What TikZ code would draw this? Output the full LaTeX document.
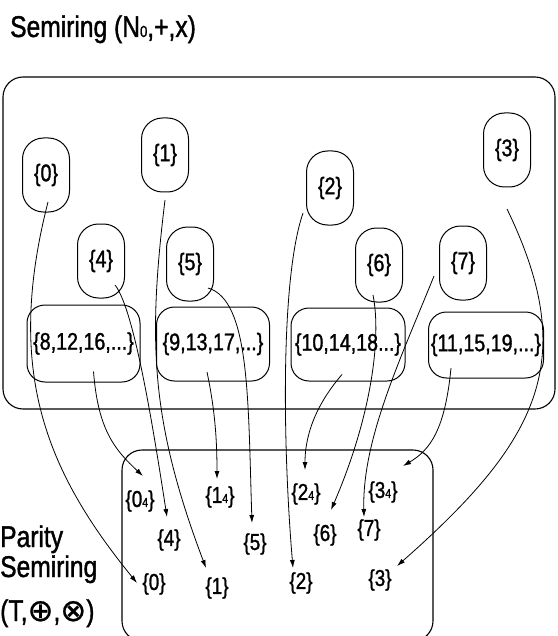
\documentclass[tikz,border=0pt]{standalone}
\usepackage{fontspec}
\setmainfont{Liberation Sans}[FakeStretch=0.82,FakeBold=1.2]
\newfontfamily\symf{DejaVu Sans}[FakeBold=0.8]
\usetikzlibrary{arrows.meta}
\newcommand\lowidx[2]{{\fontsize{#1}{#1}\selectfont #2}}
\begin{document}
\begin{tikzpicture}[x=1pt,y=-1pt,
  oval/.style={draw,line width=1pt,rounded corners=21pt,minimum width=47pt,minimum height=74pt,inner sep=0pt,font=\fontsize{24}{24}\selectfont},
  setbox/.style={draw,line width=1pt,rounded corners=18pt,inner sep=0pt,font=\fontsize{24}{24}\selectfont},
  elem/.style={inner sep=0pt,font=\fontsize{23}{23}\selectfont},
  arr/.style={line width=0.8pt,-{Latex[length=8pt,width=5pt]}},
  bigframe/.style={line width=1.1pt,rounded corners=20pt},
  lbl/.style={anchor=base west,inner sep=0pt,font=\fontsize{30}{30}\selectfont}]
\useasboundingbox (0,0) rectangle (557,636);

% titles
\node[lbl] (title) at (10,37) {Semiring (N\lowidx{16}{0},+,x)};
\node[lbl] (par1) at (0,547) {Parity};
\node[lbl] (par2) at (0,577) {Semiring};
\node[lbl] (par3) at (0,621) {(T,{\symf\fontsize{31}{31}\selectfont ⊕},{\symf\fontsize{31}{31}\selectfont ⊗})};

% frames
\draw[bigframe] (3,77) rectangle (555,409);
\begin{scope}
\clip (0,0) rectangle (557,636);
\draw[bigframe] (122,450) rectangle (433,641);
\end{scope}

% top nodes
\node[oval] (t0) at (46,175) {\{0\}};
\node[oval] (t1) at (165,155) {\{1\}};
\node[oval] (t2) at (330,188) {\{2\}};
\node[oval] (t3) at (507,150) {\{3\}};
\node[oval] (t4) at (101,261) {\{4\}};
\node[oval] (t5) at (190,264) {\{5\}};
\node[oval] (t6) at (379,265) {\{6\}};
\node[oval] (t7) at (463,263) {\{7\}};

% set nodes
\node[setbox,minimum width=113pt,minimum height=77pt] (s8) at (83.5,343.5) {\{8,12,16,...\}};
\node[setbox,minimum width=113pt,minimum height=74pt] (s9) at (213,344) {\{9,13,17,...\}};
\node[setbox,minimum width=114pt,minimum height=73pt] (s10) at (348,344.5) {\{10,14,18...\}};
\node[setbox,minimum width=115pt,minimum height=66pt] (s11) at (486,345) {\{11,15,19,...\}};

% parity elements
\node[elem] (q0) at (140,501) {\{0\lowidx{13}{4}\}};
\node[elem] (q1) at (220,497) {\{1\lowidx{13}{4}\}};
\node[elem] (q2) at (306,494) {\{2\lowidx{13}{4}\}};
\node[elem] (q3) at (383,492) {\{3\lowidx{13}{4}\}};
\node[elem] (p4) at (169,540) {\{4\}};
\node[elem] (p5) at (255,544) {\{5\}};
\node[elem] (p6) at (325,535) {\{6\}};
\node[elem] (p7) at (369,530) {\{7\}};
\node[elem] (p0) at (154,584) {\{0\}};
\node[elem] (p1) at (217,588) {\{1\}};
\node[elem] (p2) at (301,583) {\{2\}};
\node[elem] (p3) at (380,580) {\{3\}};

% arrows from singletons
\draw[arr] ([shift={(2,27)}]t0.center) .. controls (5,370) and (45,470) .. ([shift={(-17,-1)}]p0.center);
\draw[arr] ([shift={(0,45)}]t1.center) .. controls (148,340) and (150,420) .. ([shift={(-11,-20)}]p1.center);
\draw[arr] ([shift={(-27,25)}]t2.center) .. controls (280,280) and (283,450) .. ([shift={(-8,-15)}]p2.center);
\draw[arr] ([shift={(0,59)}]t3.center) .. controls (580,360) and (540,440) .. ([shift={(17,-14)}]p3.center);
\draw[arr] ([shift={(14,24)}]t4.center) .. controls (135,310) and (155,440) .. ([shift={(-2,-23)}]p4.center);
\draw[arr] ([shift={(18,24)}]t5.center) .. controls (250,300) and (248,400) .. ([shift={(-3,-21)}]p5.center);
\draw[arr] ([shift={(-6,30)}]t6.center) .. controls (382,340) and (370,420) .. ([shift={(6,-25)}]p6.center);
\draw[arr] ([shift={(-29,13)}]t7.center) .. controls (400,360) and (362,440) .. ([shift={(-5,-13)}]p7.center);

% arrows from sets
\draw[arr] ([shift={(10,28)}]s8.center) .. controls (98,430) and (115,450) .. ([shift={(3,-25)}]q0.center);
\draw[arr] ([shift={(-6,28)}]s9.center) .. controls (215,410) and (217,440) .. ([shift={(-3,-18)}]q1.center);
\draw[arr] ([shift={(-6,30)}]s10.center) .. controls (320,400) and (305,430) .. ([shift={(-1,-24)}]q2.center);
\draw[arr] ([shift={(-35,23)}]s11.center) .. controls (445,430) and (430,450) .. ([shift={(20,-26)}]q3.center);
\end{tikzpicture}
\end{document}
